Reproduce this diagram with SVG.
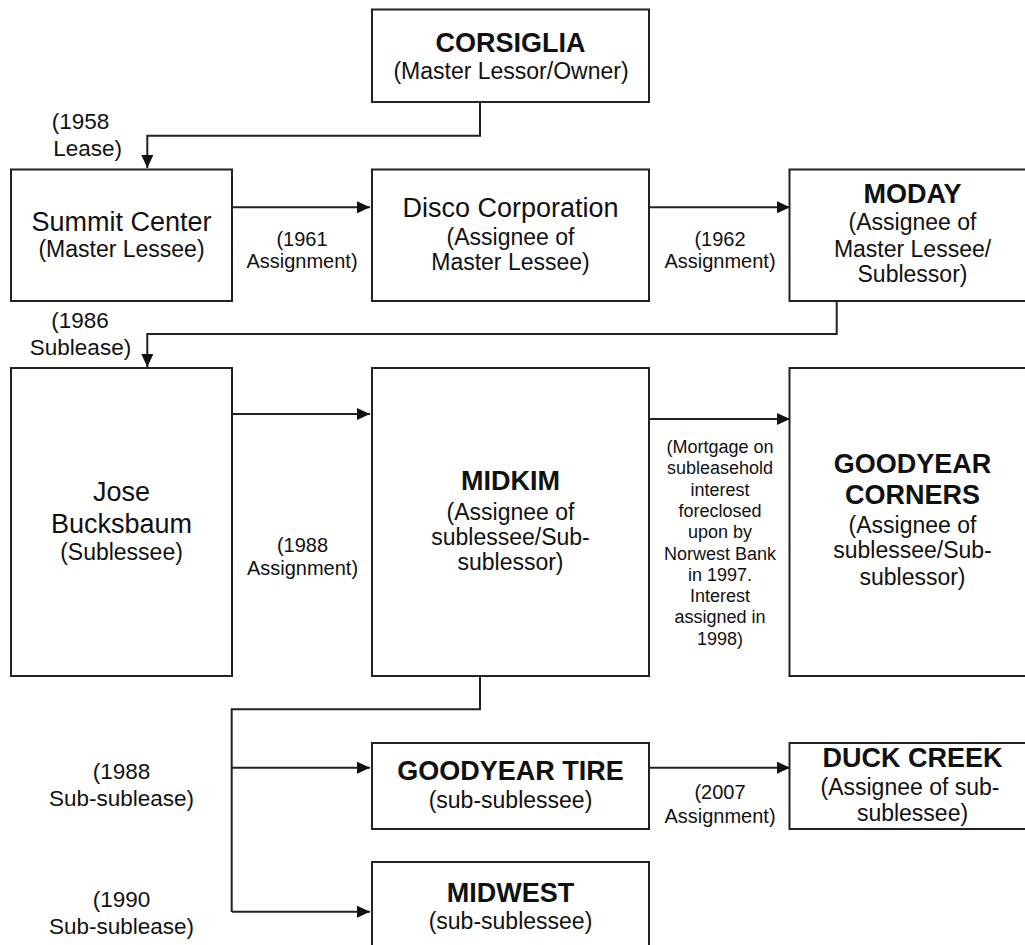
<svg xmlns="http://www.w3.org/2000/svg" width="1025" height="945" viewBox="0 0 1025 945">
<style>
.box{fill:#fff;stroke:#222;stroke-width:2}
.conn{fill:none;stroke:#222;stroke-width:2}
text{font-family:"Liberation Sans",Arial,sans-serif;fill:#111;text-anchor:middle}
.title{font-size:27px}
.b{font-weight:bold}
.sub{font-size:23px}
.lab{font-size:20px}
.lab2{font-size:22.5px}
.mort{font-size:18px}
.st{text-anchor:start}
</style>
<defs>
<marker id="ah" markerWidth="13" markerHeight="12" refX="13" refY="6" orient="auto" markerUnits="userSpaceOnUse">
<path d="M0,0 L13,6 L0,12 Z" fill="#111"/>
</marker>
</defs>
<rect width="1025" height="945" fill="#fff"/>
<g id="connectors">
<path class="conn" d="M480,102 V135.7 H147.3 V168" marker-end="url(#ah)"/>
<path class="conn" d="M232,207.3 H370" marker-end="url(#ah)"/>
<path class="conn" d="M650,207.3 H790" marker-end="url(#ah)"/>
<path class="conn" d="M836.7,301 V334 H147.3 V367" marker-end="url(#ah)"/>
<path class="conn" d="M232,414 H370" marker-end="url(#ah)"/>
<path class="conn" d="M650,419 H790" marker-end="url(#ah)"/>
<path class="conn" d="M480,676 V709.3 H231.7 V912"/>
<path class="conn" d="M232,767.7 H370" marker-end="url(#ah)"/>
<path class="conn" d="M232,911.7 H370" marker-end="url(#ah)"/>
<path class="conn" d="M650,767.7 H790" marker-end="url(#ah)"/>
</g>
<g id="labels">
<text class="lab2 st" x="51.7" y="129.3">(1958</text>
<text class="lab2 st" x="53.3" y="156">Lease)</text>
<text class="lab" x="302" y="245.5">(1961</text>
<text class="lab" x="302" y="268.3">Assignment)</text>
<text class="lab" x="720" y="245.5">(1962</text>
<text class="lab" x="720" y="268.3">Assignment)</text>
<text class="lab2" x="80" y="328.3">(1986</text>
<text class="lab2" x="80.5" y="355">Sublease)</text>
<text class="lab" x="302.5" y="551.7">(1988</text>
<text class="lab" x="302.5" y="575">Assignment)</text>
<text class="mort" x="720" y="453">(Mortgage on</text>
<text class="mort" x="720" y="474.3">subleasehold</text>
<text class="mort" x="720" y="495.6">interest</text>
<text class="mort" x="720" y="516.9">foreclosed</text>
<text class="mort" x="720" y="538.2">upon by</text>
<text class="mort" x="720" y="559.5">Norwest Bank</text>
<text class="mort" x="720" y="580.8">in 1997.</text>
<text class="mort" x="720" y="602.1">Interest</text>
<text class="mort" x="720" y="623.4">assigned in</text>
<text class="mort" x="720" y="644.7">1998)</text>
<text class="lab2" x="121.5" y="779.3">(1988</text>
<text class="lab2" x="121.5" y="806">Sub-sublease)</text>
<text class="lab2" x="121.5" y="906.7">(1990</text>
<text class="lab2" x="121.5" y="934">Sub-sublease)</text>
<text class="lab" x="720" y="799.3">(2007</text>
<text class="lab" x="720" y="822.7">Assignment)</text>
</g>
<g id="corsiglia">
<rect class="box" x="372" y="9.5" width="277" height="92.5"/>
<text class="title b" x="510.5" y="51.7">CORSIGLIA</text>
<text class="sub" x="511" y="79">(Master Lessor/Owner)</text>
</g>
<g id="summit">
<rect class="box" x="11" y="169.5" width="221" height="131.5"/>
<text class="title" x="121.5" y="230.7">Summit Center</text>
<text class="sub" x="121.5" y="256.7">(Master Lessee)</text>
</g>
<g id="disco">
<rect class="box" x="372" y="169.5" width="277" height="131.5"/>
<text class="title" x="510.5" y="216.7">Disco Corporation</text>
<text class="sub" x="510.5" y="245">(Assignee of</text>
<text class="sub" x="510.5" y="270">Master Lessee)</text>
</g>
<g id="moday">
<rect class="box" x="789.5" y="169.5" width="250" height="131.5"/>
<text class="title b" x="912.5" y="202.7">MODAY</text>
<text class="sub" x="912.5" y="230">(Assignee of</text>
<text class="sub" x="912.5" y="256.7">Master Lessee/</text>
<text class="sub" x="912.5" y="281.7">Sublessor)</text>
</g>
<g id="jose">
<rect class="box" x="11" y="368" width="221" height="308"/>
<text class="title" x="121.5" y="500.7">Jose</text>
<text class="title" x="121.5" y="533.3">Bucksbaum</text>
<text class="sub" x="121.5" y="560">(Sublessee)</text>
</g>
<g id="midkim">
<rect class="box" x="372" y="368" width="277" height="308"/>
<text class="title b" x="510.5" y="490">MIDKIM</text>
<text class="sub" x="510.5" y="520">(Assignee of</text>
<text class="sub" x="510.5" y="545">sublessee/Sub-</text>
<text class="sub" x="510.5" y="570">sublessor)</text>
</g>
<g id="goodyear-corners">
<rect class="box" x="789.5" y="368" width="250" height="308"/>
<text class="title b" x="912.5" y="473.3">GOODYEAR</text>
<text class="title b" x="912.5" y="504">CORNERS</text>
<text class="sub" x="912.5" y="533.3">(Assignee of</text>
<text class="sub" x="912.5" y="558.3">sublessee/Sub-</text>
<text class="sub" x="912.5" y="585">sublessor)</text>
</g>
<g id="goodyear-tire">
<rect class="box" x="372" y="743" width="277" height="86"/>
<text class="title b" x="510.5" y="780">GOODYEAR TIRE</text>
<text class="sub" x="510.5" y="808.3">(sub-sublessee)</text>
</g>
<g id="duck-creek">
<rect class="box" x="789.5" y="743" width="250" height="86"/>
<text class="title b" x="912.5" y="766.7">DUCK CREEK</text>
<text class="sub" x="910" y="795">(Assignee of sub-</text>
<text class="sub" x="912.5" y="820.7">sublessee)</text>
</g>
<g id="midwest">
<rect class="box" x="372" y="862" width="277" height="100"/>
<text class="title b" x="510.5" y="902.3">MIDWEST</text>
<text class="sub" x="510.5" y="929.3">(sub-sublessee)</text>
</g>
</svg>
